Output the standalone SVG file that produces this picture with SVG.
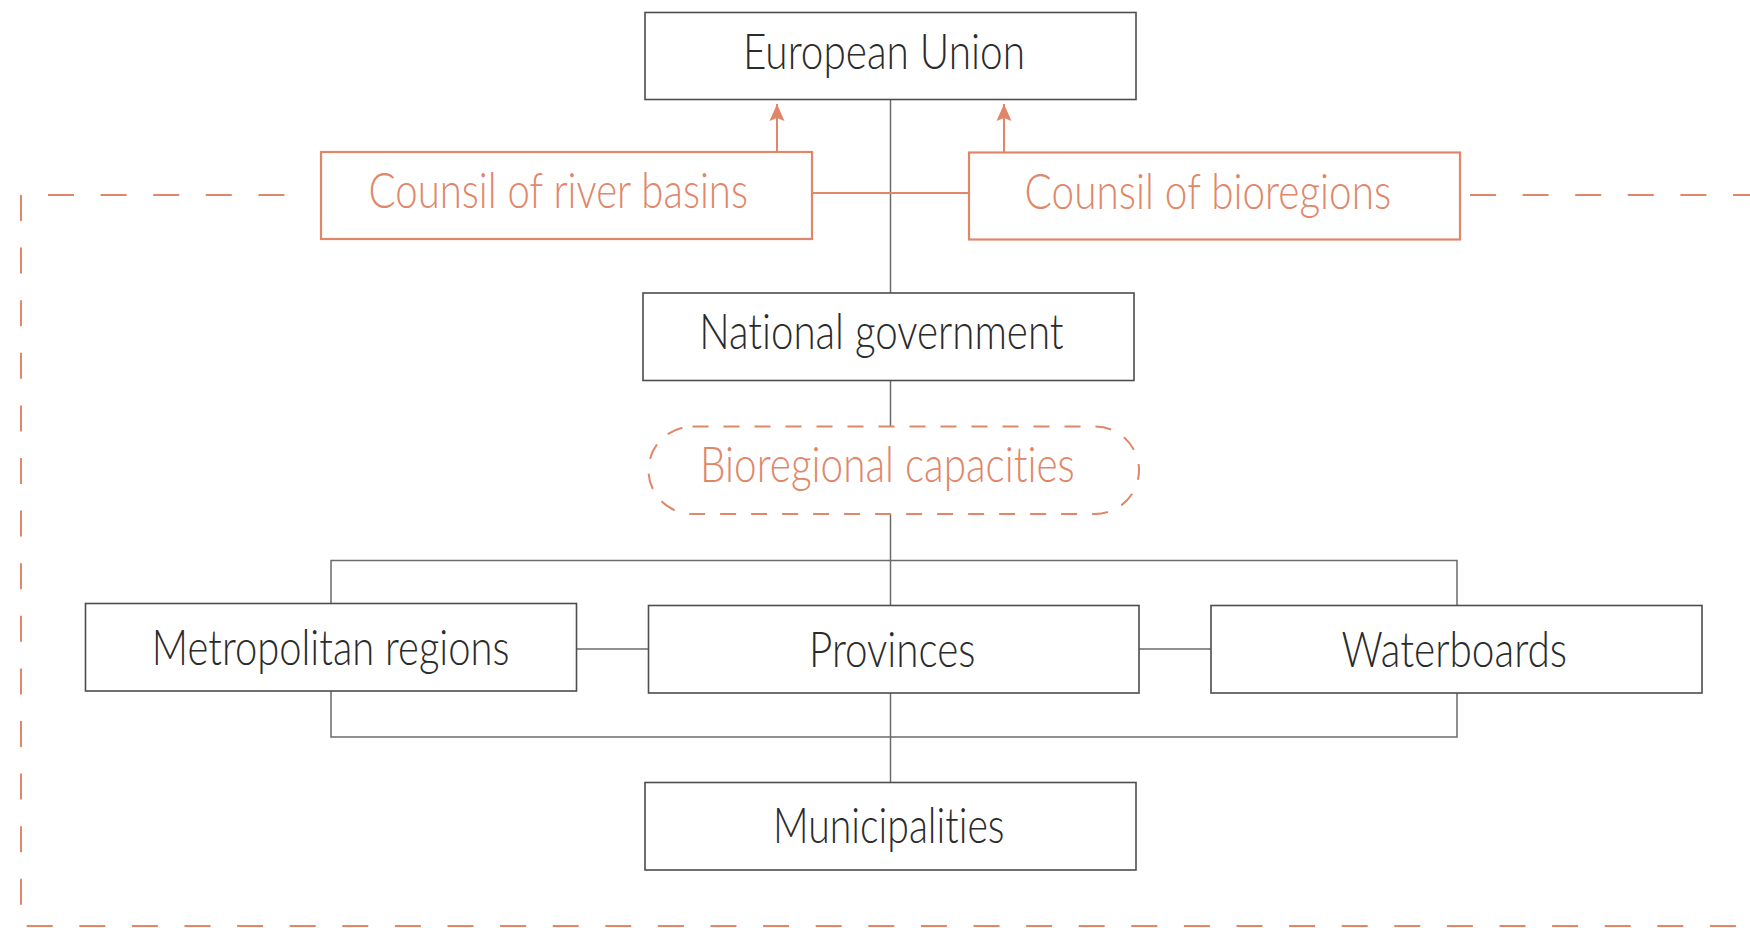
<svg xmlns="http://www.w3.org/2000/svg" width="1750" height="928" viewBox="0 0 1750 928">
<style>
.box{fill:#fff;stroke:#4d4d4d;stroke-width:1.6}
.obox{fill:#fff;stroke:#e0876a;stroke-width:2.2}
.pill{fill:#fff;stroke:#e0876a;stroke-width:2;stroke-dasharray:16 15}
.t,.ot{font-family:Lato,"Open Sans","Liberation Sans",sans-serif;font-weight:300;font-size:50px;font-variant-ligatures:none;font-feature-settings:"liga" 0,"clig" 0}
.t{fill:#2b2b2b}
.ot{fill:#e0876a}
.ln{fill:none;stroke:#6b6b6b;stroke-width:1.5}
.oln{fill:none;stroke:#e0876a;stroke-width:2}
.dash{fill:none;stroke:#e0876a;stroke-width:2;stroke-dasharray:26 26.6}
</style>
<defs>
<marker id="ah" markerUnits="userSpaceOnUse" viewBox="-18 -9 20 18" markerWidth="20" markerHeight="18" refX="0" refY="0" orient="auto">
<path d="M0,0 L-17,-7.5 L-14,0 L-17,7.5 Z" fill="#e0876a"/>
</marker>
</defs>
<g id="boundary">
<path class="dash" d="M48 195 H290"/>
<path class="dash" d="M1470 195 H1750"/>
<path class="dash" d="M21 195 V926"/>
<path class="dash" d="M26.7 926 H1750"/>
</g>
<g id="connectors">
<path class="ln" d="M890.5 99.5 V293 M890.5 380.5 V426.5 M890.5 514 V605.5 M890.5 693 V782.5"/>
<path class="ln" d="M331 603.5 V560.5 H1457 V605.5"/>
<path class="ln" d="M331 691 V737 H1457 V693"/>
<path class="ln" d="M576.5 649 H648.5 M1139 649 H1211"/>
<path class="oln" d="M812 193 H969"/>
<path class="oln" d="M777 152 V104" marker-end="url(#ah)"/>
<path class="oln" d="M1004 152.5 V104" marker-end="url(#ah)"/>
</g>
<g id="eu">
<rect class="box" x="645" y="12.5" width="491" height="87"/>
<text class="t" x="743" y="69" textLength="282" lengthAdjust="spacingAndGlyphs">European Union</text>
</g>
<g id="river-basins">
<rect class="obox" x="321" y="152" width="491" height="87"/>
<text class="ot" x="368.5" y="208.3" textLength="379.5" lengthAdjust="spacingAndGlyphs">Counsil of river basins</text>
</g>
<g id="bioregions">
<rect class="obox" x="969" y="152.5" width="491" height="87"/>
<text class="ot" x="1024.6" y="208.6" textLength="366.6" lengthAdjust="spacingAndGlyphs">Counsil of bioregions</text>
</g>
<g id="national">
<rect class="box" x="643" y="293" width="491" height="87.5"/>
<text class="t" x="699.2" y="349.3" textLength="364.4" lengthAdjust="spacingAndGlyphs">National government</text>
</g>
<g id="capacities">
<rect class="pill" x="648.5" y="426.5" width="490.5" height="87.5" rx="44" ry="43.75"/>
<text class="ot" x="700" y="481.7" textLength="374.8" lengthAdjust="spacingAndGlyphs">Bioregional capacities</text>
</g>
<g id="metropolitan">
<rect class="box" x="85.5" y="603.5" width="491" height="87.5"/>
<text class="t" x="151.8" y="665" textLength="357.7" lengthAdjust="spacingAndGlyphs">Metropolitan regions</text>
</g>
<g id="provinces">
<rect class="box" x="648.5" y="605.5" width="490.5" height="87.5"/>
<text class="t" x="809" y="666.7" textLength="166.4" lengthAdjust="spacingAndGlyphs">Provinces</text>
</g>
<g id="waterboards">
<rect class="box" x="1211" y="605.5" width="491" height="87.5"/>
<text class="t" x="1341.5" y="666.7" textLength="225.5" lengthAdjust="spacingAndGlyphs">Waterboards</text>
</g>
<g id="municipalities">
<rect class="box" x="645" y="782.5" width="491" height="87.5"/>
<text class="t" x="773" y="843.3" textLength="231.5" lengthAdjust="spacingAndGlyphs">Municipalities</text>
</g>
</svg>
